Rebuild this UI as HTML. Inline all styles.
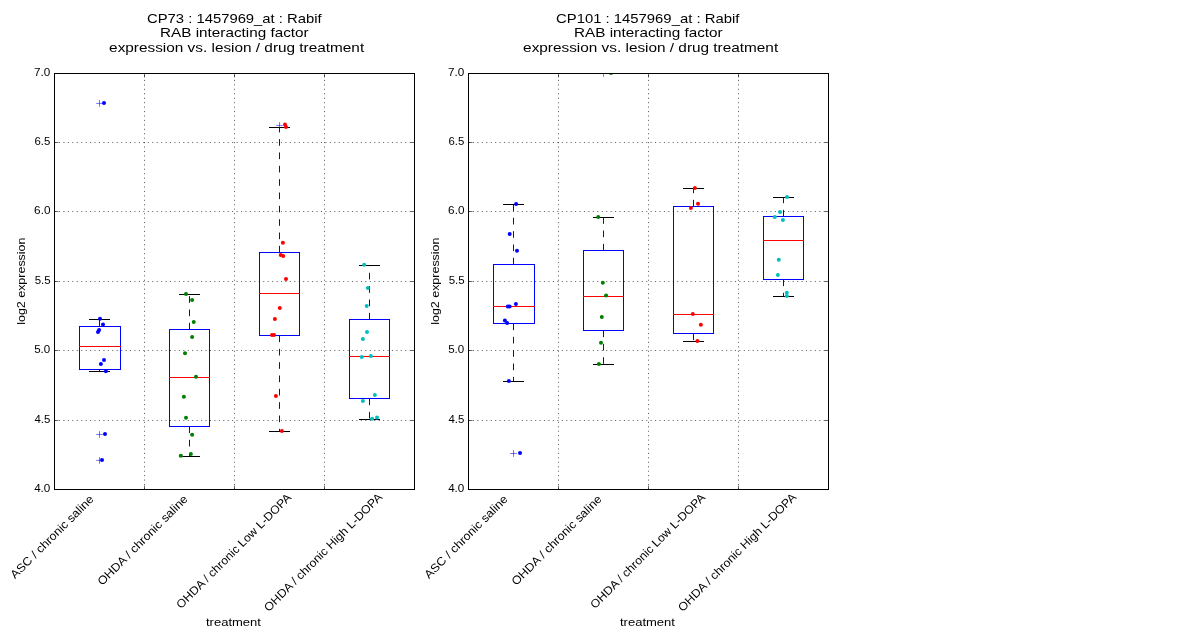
<!DOCTYPE html>
<html><head><meta charset="utf-8"><style>
html,body{margin:0;padding:0;background:#fff;width:1200px;height:640px;overflow:hidden}
svg{position:absolute;left:0;top:0;display:block;will-change:transform}
text{font-family:"Liberation Sans",sans-serif;fill:#000}
</style></head><body>
<svg width="1200" height="640" viewBox="0 0 1200 640">
<rect width="1200" height="640" fill="#fff"/>
<defs>
<clipPath id="c0"><rect x="54" y="73" width="361" height="417"/></clipPath>
<clipPath id="c1"><rect x="468" y="73" width="361" height="417"/></clipPath>
</defs>
<g stroke="#000" stroke-width="0.6" stroke-dasharray="1.11 3.33" fill="none"><line x1="144.5" y1="489.5" x2="144.5" y2="73.5"/><line x1="234.5" y1="489.5" x2="234.5" y2="73.5"/><line x1="324.5" y1="489.5" x2="324.5" y2="73.5"/><line x1="54.5" y1="142.5" x2="414.5" y2="142.5"/><line x1="54.5" y1="211.5" x2="414.5" y2="211.5"/><line x1="54.5" y1="281.5" x2="414.5" y2="281.5"/><line x1="54.5" y1="350.5" x2="414.5" y2="350.5"/><line x1="54.5" y1="420.5" x2="414.5" y2="420.5"/></g>
<path stroke="#000" stroke-width="0.6" fill="none" d="M54 73.5h4.44M415 73.5h-4.44M54 142.5h4.44M415 142.5h-4.44M54 211.5h4.44M415 211.5h-4.44M54 281.5h4.44M415 281.5h-4.44M54 350.5h4.44M415 350.5h-4.44M54 420.5h4.44M415 420.5h-4.44M54 489.5h4.44M415 489.5h-4.44M54.5 490v-4.44M54.5 73v4.44M144.5 490v-4.44M144.5 73v4.44M234.5 490v-4.44M234.5 73v4.44M324.5 490v-4.44M324.5 73v4.44M414.5 490v-4.44M414.5 73v4.44"/>
<g clip-path="url(#c0)">
<path stroke="#0000ff" stroke-width="1" fill="none" stroke-dasharray="6.67 6.67" d="M99.5 326.5V319.5M99.5 369.5V371.5"/>
<path stroke="#000" stroke-width="1" fill="none" d="M89 319.5h21M89 371.5h21"/>
<rect x="79.5" y="326.5" width="41" height="43" stroke="#0000ff" stroke-width="1" fill="none"/>
<path stroke="#ff0000" stroke-width="1" d="M79 346.5H121"/>
</g>
<g clip-path="url(#c0)">
<path stroke="#0000ff" stroke-width="1" fill="none" stroke-dasharray="6.67 6.67" d="M189.5 329.5V294.5M189.5 426.5V456.5"/>
<path stroke="#000" stroke-width="1" fill="none" d="M179 294.5h21M179 456.5h21"/>
<rect x="169.5" y="329.5" width="40" height="97" stroke="#0000ff" stroke-width="1" fill="none"/>
<path stroke="#ff0000" stroke-width="1" d="M169 377.5H210"/>
</g>
<g clip-path="url(#c0)">
<path stroke="#0000ff" stroke-width="1" fill="none" stroke-dasharray="6.67 6.67" d="M279.5 252.5V127.5M279.5 335.5V431.5"/>
<path stroke="#000" stroke-width="1" fill="none" d="M269 127.5h21M269 431.5h21"/>
<rect x="259.5" y="252.5" width="40" height="83" stroke="#0000ff" stroke-width="1" fill="none"/>
<path stroke="#ff0000" stroke-width="1" d="M259 293.5H300"/>
</g>
<g clip-path="url(#c0)">
<path stroke="#0000ff" stroke-width="1" fill="none" stroke-dasharray="6.67 6.67" d="M369.5 319.5V265.5M369.5 398.5V419.5"/>
<path stroke="#000" stroke-width="1" fill="none" d="M359 265.5h21M359 419.5h21"/>
<rect x="349.5" y="319.5" width="40" height="79" stroke="#0000ff" stroke-width="1" fill="none"/>
<path stroke="#ff0000" stroke-width="1" d="M349 356.5H390"/>
</g>
<path clip-path="url(#c0)" stroke="#0000ff" stroke-width="0.55" fill="none" d="M96.17 103.4h6.67M99.5 100.07v6.67M96.17 434.45h6.67M99.5 431.12v6.67M96.17 460.4h6.67M99.5 457.07v6.67M276.17 125.4h6.67M279.5 122.07v6.67"/>
<g clip-path="url(#c0)" fill="#0000ff"><circle cx="100" cy="318.7" r="2"/><circle cx="103" cy="324.5" r="2"/><circle cx="99.1" cy="330" r="2"/><circle cx="98" cy="332" r="2"/><circle cx="104" cy="360" r="2"/><circle cx="100.9" cy="363.9" r="2"/><circle cx="105.9" cy="371.2" r="2"/><circle cx="104" cy="103" r="2"/><circle cx="105" cy="434.1" r="2"/><circle cx="102" cy="460" r="2"/></g>
<g clip-path="url(#c0)" fill="#008000"><circle cx="186" cy="293.9" r="2"/><circle cx="192.1" cy="299.9" r="2"/><circle cx="193.75" cy="322" r="2"/><circle cx="192.1" cy="337" r="2"/><circle cx="185" cy="353.2" r="2"/><circle cx="196" cy="376.75" r="2"/><circle cx="183.9" cy="396.7" r="2"/><circle cx="186" cy="417.8" r="2"/><circle cx="192.1" cy="434.7" r="2"/><circle cx="190.9" cy="454" r="2"/><circle cx="180.8" cy="455.8" r="2"/></g>
<g clip-path="url(#c0)" fill="#ff0000"><circle cx="285" cy="124.6" r="2"/><circle cx="286" cy="127" r="2"/><circle cx="282.9" cy="242.75" r="2"/><circle cx="280.7" cy="255" r="2"/><circle cx="283.2" cy="256.1" r="2"/><circle cx="286" cy="278.9" r="2"/><circle cx="279.8" cy="308" r="2"/><circle cx="274.9" cy="319" r="2"/><circle cx="272" cy="335" r="2"/><circle cx="274" cy="335" r="2"/><circle cx="275.9" cy="396" r="2"/><circle cx="281.9" cy="431" r="2"/></g>
<g clip-path="url(#c0)" fill="#00bfbf"><circle cx="364.2" cy="264.8" r="2"/><circle cx="367.8" cy="288" r="2"/><circle cx="366.7" cy="305.9" r="2"/><circle cx="367" cy="331.9" r="2"/><circle cx="362.9" cy="339" r="2"/><circle cx="361.8" cy="356.9" r="2"/><circle cx="370.9" cy="355.9" r="2"/><circle cx="374.9" cy="394.9" r="2"/><circle cx="362.9" cy="400.9" r="2"/><circle cx="372.1" cy="418.8" r="2"/><circle cx="377" cy="417.6" r="2"/></g>
<rect x="54.5" y="73.5" width="360" height="416" fill="none" stroke="#000" stroke-width="1"/>
<g stroke="#000" stroke-width="0.6" stroke-dasharray="1.11 3.33" fill="none"><line x1="558.5" y1="489.5" x2="558.5" y2="73.5"/><line x1="648.5" y1="489.5" x2="648.5" y2="73.5"/><line x1="738.5" y1="489.5" x2="738.5" y2="73.5"/><line x1="468.5" y1="142.5" x2="828.5" y2="142.5"/><line x1="468.5" y1="211.5" x2="828.5" y2="211.5"/><line x1="468.5" y1="281.5" x2="828.5" y2="281.5"/><line x1="468.5" y1="350.5" x2="828.5" y2="350.5"/><line x1="468.5" y1="420.5" x2="828.5" y2="420.5"/></g>
<path stroke="#000" stroke-width="0.6" fill="none" d="M468 73.5h4.44M829 73.5h-4.44M468 142.5h4.44M829 142.5h-4.44M468 211.5h4.44M829 211.5h-4.44M468 281.5h4.44M829 281.5h-4.44M468 350.5h4.44M829 350.5h-4.44M468 420.5h4.44M829 420.5h-4.44M468 489.5h4.44M829 489.5h-4.44M468.5 490v-4.44M468.5 73v4.44M558.5 490v-4.44M558.5 73v4.44M648.5 490v-4.44M648.5 73v4.44M738.5 490v-4.44M738.5 73v4.44M828.5 490v-4.44M828.5 73v4.44"/>
<g clip-path="url(#c1)">
<path stroke="#0000ff" stroke-width="1" fill="none" stroke-dasharray="6.67 6.67" d="M513.5 264.5V204.5M513.5 323.5V381.5"/>
<path stroke="#000" stroke-width="1" fill="none" d="M503 204.5h21M503 381.5h21"/>
<rect x="493.5" y="264.5" width="41" height="59" stroke="#0000ff" stroke-width="1" fill="none"/>
<path stroke="#ff0000" stroke-width="1" d="M493 306.5H535"/>
</g>
<g clip-path="url(#c1)">
<path stroke="#0000ff" stroke-width="1" fill="none" stroke-dasharray="6.67 6.67" d="M603.5 250.5V217.5M603.5 330.5V364.5"/>
<path stroke="#000" stroke-width="1" fill="none" d="M593 217.5h21M593 364.5h21"/>
<rect x="583.5" y="250.5" width="40" height="80" stroke="#0000ff" stroke-width="1" fill="none"/>
<path stroke="#ff0000" stroke-width="1" d="M583 296.5H624"/>
</g>
<g clip-path="url(#c1)">
<path stroke="#0000ff" stroke-width="1" fill="none" stroke-dasharray="6.67 6.67" d="M693.5 206.5V188.5M693.5 333.5V341.5"/>
<path stroke="#000" stroke-width="1" fill="none" d="M683 188.5h21M683 341.5h21"/>
<rect x="673.5" y="206.5" width="40" height="127" stroke="#0000ff" stroke-width="1" fill="none"/>
<path stroke="#ff0000" stroke-width="1" d="M673 314.5H714"/>
</g>
<g clip-path="url(#c1)">
<path stroke="#0000ff" stroke-width="1" fill="none" stroke-dasharray="6.67 6.67" d="M783.5 216.5V197.5M783.5 279.5V296.5"/>
<path stroke="#000" stroke-width="1" fill="none" d="M773 197.5h21M773 296.5h21"/>
<rect x="763.5" y="216.5" width="40" height="63" stroke="#0000ff" stroke-width="1" fill="none"/>
<path stroke="#ff0000" stroke-width="1" d="M763 240.5H804"/>
</g>
<path clip-path="url(#c1)" stroke="#0000ff" stroke-width="0.55" fill="none" d="M510.17 453.5h6.67M513.5 450.17v6.67M600.17 73.5h6.67M603.5 70.17v6.67"/>
<g clip-path="url(#c1)" fill="#0000ff"><circle cx="516.1" cy="203.9" r="2"/><circle cx="509.7" cy="234" r="2"/><circle cx="517" cy="250.8" r="2"/><circle cx="507.8" cy="306.4" r="2"/><circle cx="509.6" cy="306.4" r="2"/><circle cx="515.9" cy="303.9" r="2"/><circle cx="504.9" cy="320.6" r="2"/><circle cx="507.1" cy="323" r="2"/><circle cx="508.9" cy="381" r="2"/><circle cx="520" cy="452.9" r="2"/></g>
<g clip-path="url(#c1)" fill="#008000"><circle cx="598.2" cy="217" r="2"/><circle cx="602.8" cy="282.8" r="2"/><circle cx="606.1" cy="295.5" r="2"/><circle cx="601.8" cy="316.9" r="2"/><circle cx="601" cy="342.7" r="2"/><circle cx="598.9" cy="364" r="2"/><circle cx="611" cy="73" r="2"/></g>
<g clip-path="url(#c1)" fill="#ff0000"><circle cx="694.9" cy="188.1" r="2"/><circle cx="698" cy="203.8" r="2"/><circle cx="690.9" cy="208" r="2"/><circle cx="692.8" cy="314" r="2"/><circle cx="700.85" cy="324.85" r="2"/><circle cx="697.4" cy="340.9" r="2"/></g>
<g clip-path="url(#c1)" fill="#00bfbf"><circle cx="787" cy="196.9" r="2"/><circle cx="780" cy="211.9" r="2"/><circle cx="774.8" cy="216.9" r="2"/><circle cx="782.9" cy="219.9" r="2"/><circle cx="778.8" cy="259.8" r="2"/><circle cx="777.9" cy="275" r="2"/><circle cx="786.8" cy="292.8" r="2"/><circle cx="786.8" cy="296.1" r="2"/></g>
<rect x="468.5" y="73.5" width="360" height="416" fill="none" stroke="#000" stroke-width="1"/>
<text x="146.94" y="22.73" font-size="13.4" textLength="174.78" lengthAdjust="spacingAndGlyphs">CP73 : 1457969_at : Rabif</text>
<text x="160.06" y="36.52" font-size="13.4" textLength="148.62" lengthAdjust="spacingAndGlyphs">RAB interacting factor</text>
<text x="109.13" y="51.62" font-size="13.4" textLength="255.04" lengthAdjust="spacingAndGlyphs">expression vs. lesion / drug treatment</text>
<text x="205.94" y="625.79" font-size="11.67" textLength="55.02" lengthAdjust="spacingAndGlyphs">treatment</text>
<text transform="translate(25 324.82) rotate(-90)" font-size="11.67" textLength="87.3" lengthAdjust="spacingAndGlyphs">log2 expression</text>
<text transform="translate(15.08 579.26) rotate(-45)" font-size="11.67" textLength="112.33" lengthAdjust="spacingAndGlyphs">ASC / chronic saline</text>
<text transform="translate(102.17 586.12) rotate(-45)" font-size="11.67" textLength="122.09" lengthAdjust="spacingAndGlyphs">OHDA / chronic saline</text>
<text transform="translate(181.11 609.17) rotate(-45)" font-size="11.67" textLength="156.79" lengthAdjust="spacingAndGlyphs">OHDA / chronic Low L-DOPA</text>
<text transform="translate(268.74 612.14) rotate(-45)" font-size="11.67" textLength="161.63" lengthAdjust="spacingAndGlyphs">OHDA / chronic High L-DOPA</text>
<text x="34.14" y="491.53" font-size="11.67" textLength="16.21" lengthAdjust="spacingAndGlyphs">4.0</text>
<text x="34.42" y="423.29" font-size="11.67" textLength="15.85" lengthAdjust="spacingAndGlyphs">4.5</text>
<text x="34.2" y="352.63" font-size="11.67" textLength="16.07" lengthAdjust="spacingAndGlyphs">5.0</text>
<text x="34.64" y="284.37" font-size="11.67" textLength="15.96" lengthAdjust="spacingAndGlyphs">5.5</text>
<text x="34.13" y="214.05" font-size="11.67" textLength="16.34" lengthAdjust="spacingAndGlyphs">6.0</text>
<text x="34.51" y="144.86" font-size="11.67" textLength="15.84" lengthAdjust="spacingAndGlyphs">6.5</text>
<text x="34.02" y="75.86" font-size="11.67" textLength="16.26" lengthAdjust="spacingAndGlyphs">7.0</text>
<text x="556.03" y="22.66" font-size="13.4" textLength="183.32" lengthAdjust="spacingAndGlyphs">CP101 : 1457969_at : Rabif</text>
<text x="574.06" y="36.52" font-size="13.4" textLength="148.62" lengthAdjust="spacingAndGlyphs">RAB interacting factor</text>
<text x="523.13" y="51.62" font-size="13.4" textLength="255.04" lengthAdjust="spacingAndGlyphs">expression vs. lesion / drug treatment</text>
<text x="619.94" y="625.79" font-size="11.67" textLength="55.02" lengthAdjust="spacingAndGlyphs">treatment</text>
<text transform="translate(439 324.82) rotate(-90)" font-size="11.67" textLength="87.3" lengthAdjust="spacingAndGlyphs">log2 expression</text>
<text transform="translate(429.08 579.26) rotate(-45)" font-size="11.67" textLength="112.33" lengthAdjust="spacingAndGlyphs">ASC / chronic saline</text>
<text transform="translate(516.17 586.12) rotate(-45)" font-size="11.67" textLength="122.09" lengthAdjust="spacingAndGlyphs">OHDA / chronic saline</text>
<text transform="translate(595.11 609.17) rotate(-45)" font-size="11.67" textLength="156.79" lengthAdjust="spacingAndGlyphs">OHDA / chronic Low L-DOPA</text>
<text transform="translate(682.74 612.14) rotate(-45)" font-size="11.67" textLength="161.63" lengthAdjust="spacingAndGlyphs">OHDA / chronic High L-DOPA</text>
<text x="448.14" y="491.53" font-size="11.67" textLength="16.21" lengthAdjust="spacingAndGlyphs">4.0</text>
<text x="448.42" y="423.29" font-size="11.67" textLength="15.85" lengthAdjust="spacingAndGlyphs">4.5</text>
<text x="448.2" y="352.63" font-size="11.67" textLength="16.07" lengthAdjust="spacingAndGlyphs">5.0</text>
<text x="448.64" y="284.37" font-size="11.67" textLength="15.96" lengthAdjust="spacingAndGlyphs">5.5</text>
<text x="448.13" y="214.05" font-size="11.67" textLength="16.34" lengthAdjust="spacingAndGlyphs">6.0</text>
<text x="448.51" y="144.86" font-size="11.67" textLength="15.84" lengthAdjust="spacingAndGlyphs">6.5</text>
<text x="448.02" y="75.86" font-size="11.67" textLength="16.26" lengthAdjust="spacingAndGlyphs">7.0</text>
</svg>
</body></html>
